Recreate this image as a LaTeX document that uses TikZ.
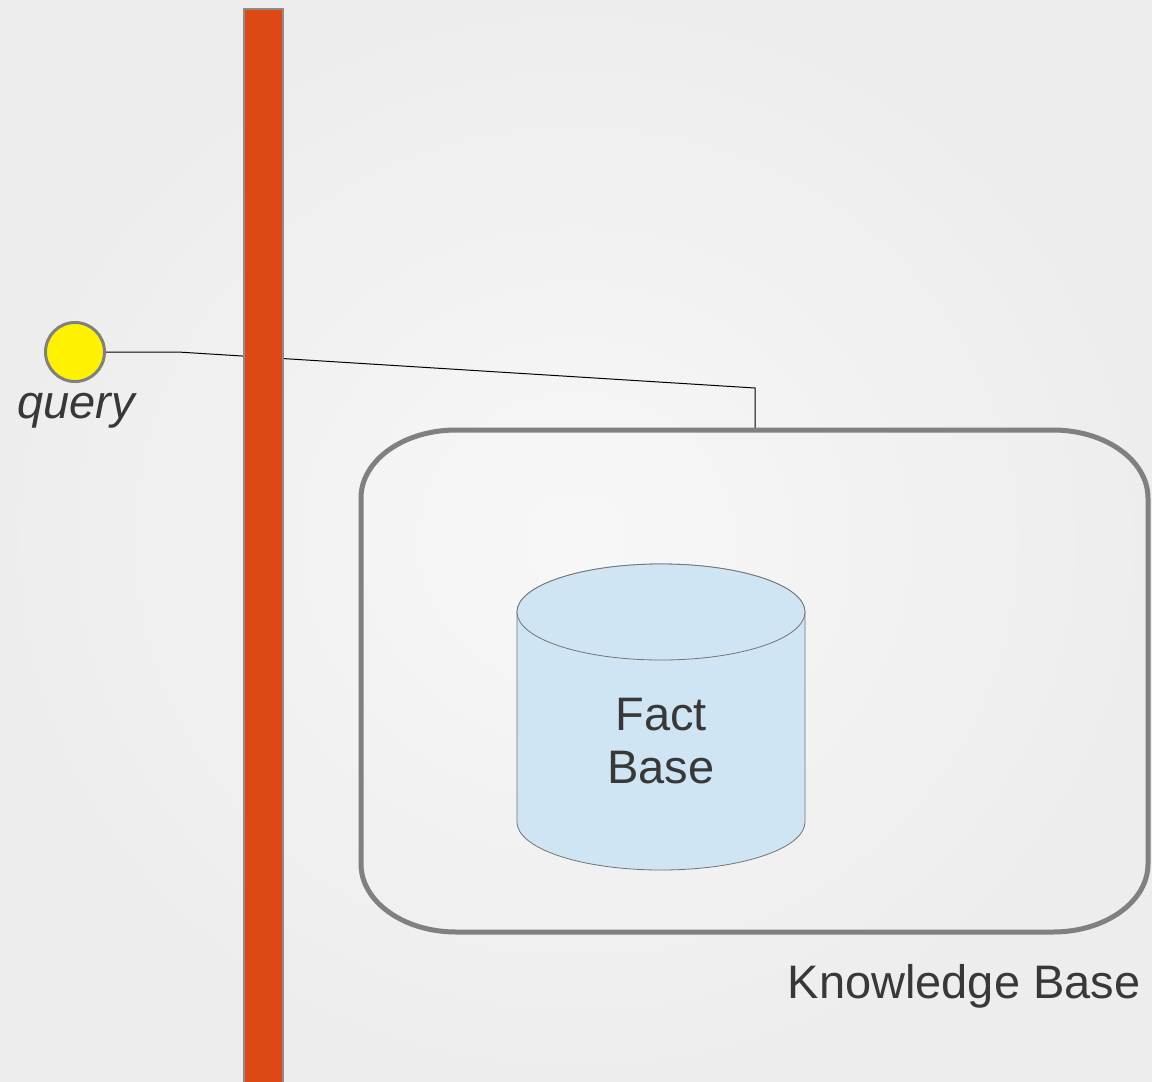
\documentclass[tikz,border=0pt]{standalone}
\usepackage{fontspec}
\setmainfont{Liberation Sans}
\usetikzlibrary{positioning}
\definecolor{barorange}{HTML}{DD4814}
\definecolor{cylblue}{HTML}{CFE5F3}
\definecolor{textgray}{HTML}{383838}
\begin{document}
\begin{tikzpicture}[x=1pt, y=-1pt,
barnode/.style={rectangle, draw=black!45, fill=barorange, line width=1.5pt, minimum width=39pt, minimum height=1090pt, inner sep=0pt},
querynode/.style={circle, draw=black!50, fill=yellow, line width=3pt, minimum size=59pt, inner sep=0pt},
bigtext/.style={text=textgray, font=\fontsize{47}{53}\selectfont},
kbline/.style={draw=black!50, line width=5pt},
cylline/.style={draw=black!55, line width=0.8pt, fill=cylblue},
]
%Background
\useasboundingbox (0,0) rectangle (1152,1082);
\fill[inner color=white!97!black, outer color=white!93!black] (0,0) rectangle (1152,1082);

%Nodes
\node[querynode]     (query)   at (75,352)  {};
\node[bigtext, font=\fontsize{47}{53}\selectfont\itshape, anchor=base] (querytext) at (76,418) {query};
\coordinate (kb) at (755,430);

%Lines
\draw[line width=1pt] (query.east) -- ++(72,0) -- (755,388) -- (kb);

\node[barnode, anchor=north] (bus) at (263.5,8) {};

%Knowledge base box
\draw[kbline] (456,430) -- (1053,430) arc[start angle=-90, end angle=0, x radius=95, y radius=68]
  -- (1148,864) arc[start angle=0, end angle=90, x radius=95, y radius=68]
  -- (456,932) arc[start angle=90, end angle=180, x radius=95, y radius=68]
  -- (361,498) arc[start angle=180, end angle=270, x radius=95, y radius=68] -- cycle;
\node[bigtext, anchor=base east] (kbtext) at (1144,998) {Knowledge Base};

%Cylinder
\draw[cylline] (517,612) -- (517,822) arc[start angle=180, end angle=0, x radius=144, y radius=48]
  -- (805,612) arc[start angle=0, end angle=-180, x radius=144, y radius=48] -- cycle;
\draw[cylline] (661,612) ellipse[x radius=144, y radius=48];
\node[bigtext, align=center] (facts) at (661,741) {Fact\\Base};

\end{tikzpicture}
\end{document}
